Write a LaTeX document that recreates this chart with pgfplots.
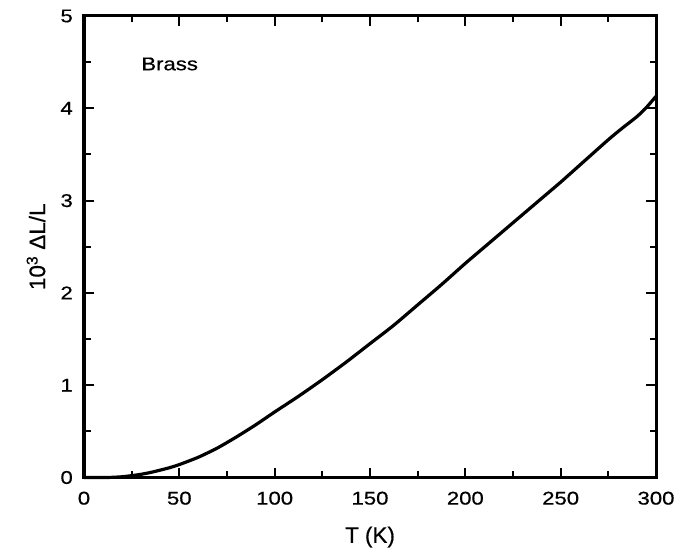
\documentclass[border=0pt]{standalone}
\usepackage{fontspec}
\setmainfont{Liberation Sans}[FakeBold=0.6]
\newfontfamily\wide{Liberation Sans}[FakeStretch=1.2, FakeBold=0.6]
\usepackage{pgfplots}
\pgfplotsset{compat=1.18}
\begin{document}
\begin{tikzpicture}
\useasboundingbox (-84bp,-80.5bp) rectangle (594bp,477.5bp);
\begin{axis}[
  at={(0,0)}, anchor=south west,
  scale only axis, width=572bp, height=461.5bp,
  xmin=0, xmax=300, ymin=0, ymax=5,
  xtick={0,50,...,300}, ytick={0,1,...,5},
  minor x tick num=1, minor y tick num=1,
  tick align=inside,
  major tick length=10bp, minor tick length=6.5bp,
  every tick/.style={black, line width=2bp},
  axis line style={line width=3bp},
  /pgf/number format/assume math mode=true,
  xticklabel style={anchor=north, inner sep=0pt, yshift=-14bp, font=\wide\fontsize{18.5}{20}\selectfont},
  yticklabel style={anchor=east, inner sep=0pt, xshift=-11bp, font=\wide\fontsize{18.5}{20}\selectfont},
  xlabel={T (K)},
  ylabel={10\textsuperscript{3} ΔL/L},
  xlabel style={at={(axis description cs:0.5,-0.129)}, anchor=center, font=\fontsize{22.5}{24}\selectfont},
  ylabel style={at={(axis description cs:-0.084,0.5)}, anchor=center, font=\fontsize{22.5}{24}\selectfont},
  clip=false,
]
\addplot[black, line width=3.2bp, smooth, tension=0.4] coordinates {
(0,0) (10,0) (15,0.002) (20,0.008) (25,0.02) (30,0.035) (35,0.055) (40,0.08) (45,0.107) (50,0.14)
(60,0.22) (70,0.32) (80,0.44) (90,0.57) (100,0.71) (112.5,0.88) (125,1.06) (137.5,1.25)
(150,1.45) (162.5,1.65) (175,1.87) (187.5,2.09) (200,2.32) (212.5,2.54) (225,2.76)
(237.5,2.98) (250,3.20) (262.5,3.43) (275,3.66) (282,3.78) (290,3.91) (295,4.01) (300,4.13)
};
\node[anchor=west, inner sep=0pt, font=\wide\fontsize{18.5}{20}\selectfont] at (rel axis cs:0.1,0.896) {Brass};
\end{axis}
\end{tikzpicture}
\end{document}
